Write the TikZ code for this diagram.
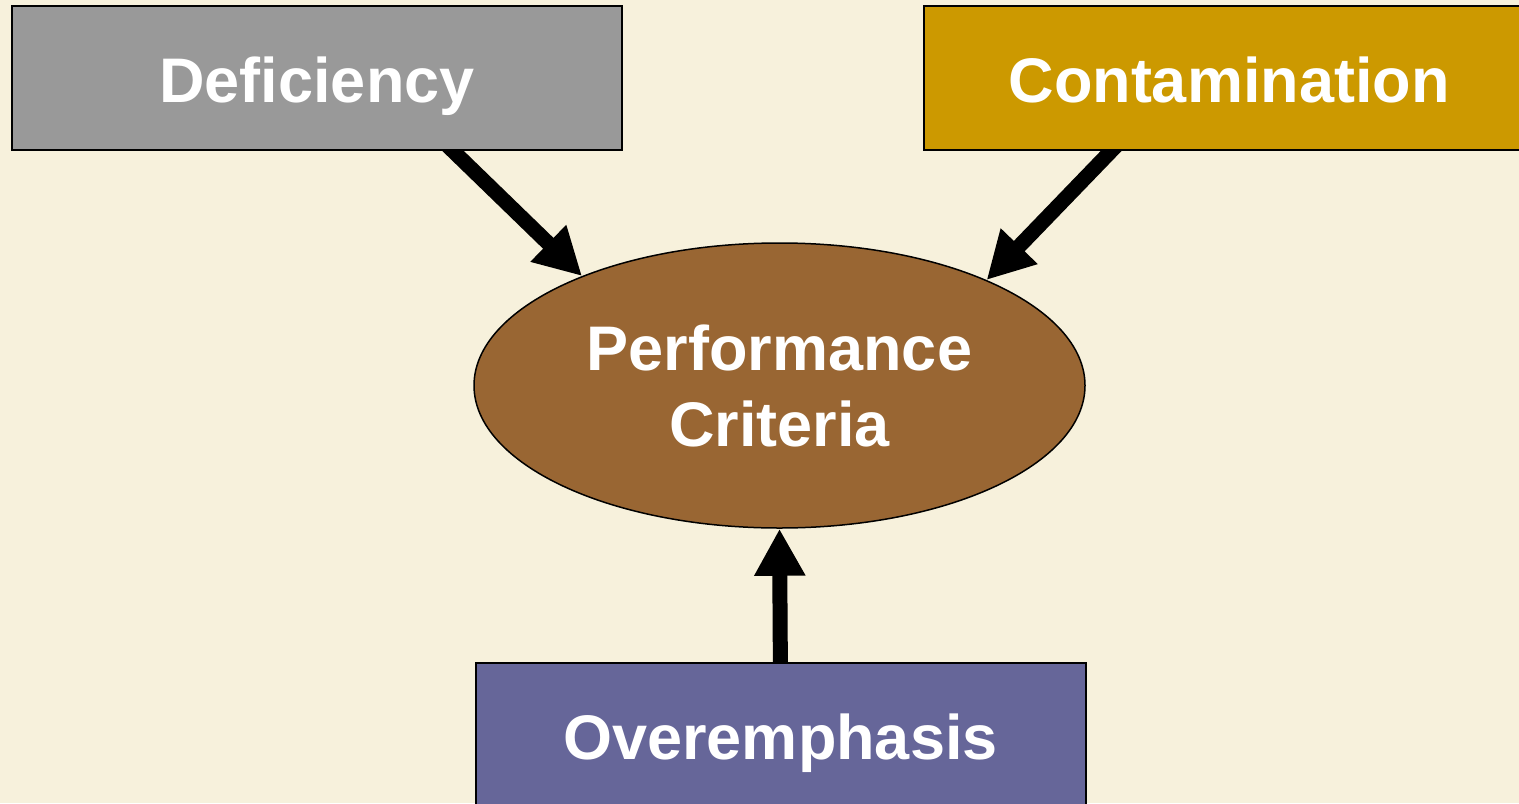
\documentclass[tikz,border=0pt]{standalone}
\usepackage{fontspec}
\setmainfont{Liberation Sans}
\usetikzlibrary{shapes.geometric,arrows.meta}
\definecolor{bgcol}{RGB}{247,241,220}
\definecolor{defcol}{RGB}{153,153,153}
\definecolor{concol}{RGB}{204,153,0}
\definecolor{perfcol}{RGB}{153,102,51}
\definecolor{ovcol}{RGB}{102,102,153}
\pgfdeclarelayer{bg}
\pgfdeclarelayer{arrowlayer}
\pgfsetlayers{bg,arrowlayer,main}
\tikzset{
  label text/.style={text=white, font=\bfseries\fontsize{31.5}{38}\selectfont},
  factorbox/.style={draw=black, line width=1pt, rectangle, minimum width=305pt,
    minimum height=72pt, inner sep=0pt, text height=24.5pt, text depth=0pt, label text},
  criteria/.style={draw=black, line width=0.75pt, ellipse, fill=perfcol,
    minimum width=305.5pt, minimum height=142.5pt, inner sep=0pt, align=center, label text},
  bigarrow/.style={line width=7.5pt, -{Triangle[width=24pt,length=23.5pt]}}
}
\begin{document}
\begin{tikzpicture}[x=0.5pt,y=-0.5pt]
\useasboundingbox (0,0) rectangle (1519,803);
\begin{pgfonlayer}{bg}
  \fill[bgcol] (0,0) rectangle (1519,803);
\end{pgfonlayer}
\clip (0,0) rectangle (1519,803);

% sources of error around the criteria
\node[factorbox, fill=defcol] (def) at (317,78) {Deficiency};
\node[factorbox, fill=concol] (con) at (1229,78) {Contamination};
\node[factorbox, fill=ovcol] (ov) at (780.5,735) {Overemphasis};
\node[criteria] (perf) at (779.5,385.5) {Performance\\Criteria};

% arrows start inside the boxes so the boxes cut them off cleanly
\begin{pgfonlayer}{arrowlayer}
  \draw[bigarrow] ([xshift=57.75pt,yshift=10pt]def.south) -- (perf.151);
  \draw[bigarrow] ([xshift=-49.3pt,yshift=10pt]con.south) -- (perf.27);
  \draw[bigarrow] ([yshift=-10pt]ov.north) -- (perf.south);
\end{pgfonlayer}
\end{tikzpicture}
\end{document}
